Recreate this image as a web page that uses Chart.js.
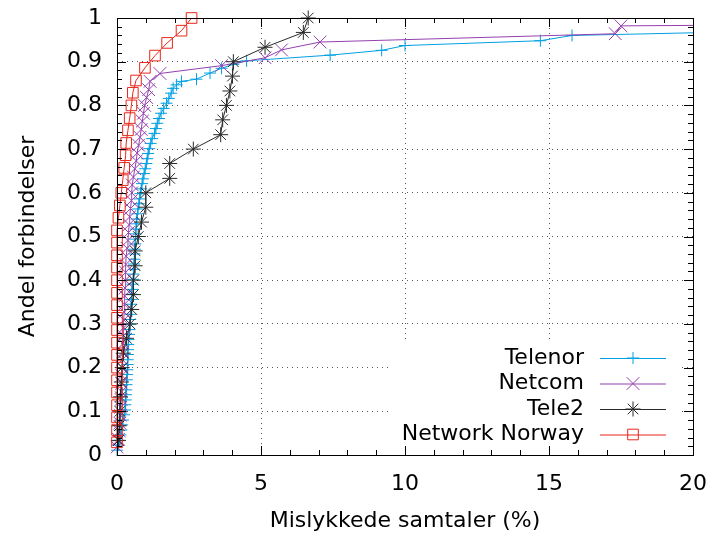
<!DOCTYPE html>
<html>
<head>
<meta charset="utf-8">
<script src="https://cdn.jsdelivr.net/npm/chart.js@4.4.1/dist/chart.umd.min.js"></script>
<style>
  html, body { margin: 0; padding: 0; background: #fff; }
</style>
</head>
<body>
<canvas id="cdfChart" width="712" height="536"></canvas>
<script>
const seriesNames = ["Telenor", "Netcom", "Tele2", "Network Norway"];

// Mislykkede samtaler (%) vs andel forbindelser, one list per operator
const telenorX = [0, 0.05, 0.08, 0.12, 0.15, 0.18, 0.21, 0.25, 0.28, 0.29, 0.3, 0.31, 0.32, 0.33, 0.34, 0.35, 0.36, 0.37, 0.37, 0.38, 0.38, 0.39, 0.4, 0.42, 0.43, 0.45, 0.46, 0.47, 0.48, 0.49, 0.5, 0.51, 0.52, 0.54, 0.56, 0.57, 0.58, 0.59, 0.6, 0.61, 0.62, 0.63, 0.64, 0.65, 0.66, 0.67, 0.69, 0.71, 0.73, 0.76, 0.78, 0.81, 0.84, 0.87, 0.9, 0.94, 0.98, 1.02, 1.05, 1.08, 1.12, 1.17, 1.22, 1.3, 1.35, 1.4, 1.46, 1.53, 1.62, 1.72, 1.8, 1.88, 1.95, 2.07, 2.24, 2.76, 3.23, 3.63, 4.04, 4.5, 7.4, 9.19, 10.0, 14.7, 15.8, 24, 32, 45];
const telenorY = [0.011, 0.023, 0.034, 0.046, 0.057, 0.069, 0.08, 0.092, 0.103, 0.115, 0.126, 0.138, 0.149, 0.161, 0.172, 0.184, 0.195, 0.207, 0.218, 0.23, 0.241, 0.253, 0.264, 0.276, 0.287, 0.299, 0.31, 0.322, 0.333, 0.345, 0.356, 0.368, 0.379, 0.391, 0.402, 0.414, 0.425, 0.437, 0.448, 0.46, 0.471, 0.483, 0.494, 0.506, 0.517, 0.529, 0.54, 0.552, 0.563, 0.575, 0.586, 0.598, 0.609, 0.621, 0.632, 0.644, 0.655, 0.667, 0.678, 0.69, 0.701, 0.713, 0.724, 0.736, 0.747, 0.759, 0.77, 0.782, 0.793, 0.805, 0.816, 0.828, 0.839, 0.847, 0.855, 0.86, 0.874, 0.885, 0.894, 0.902, 0.915, 0.926, 0.937, 0.948, 0.96, 0.972, 0.986, 1.0];

const netcomX = [0, 0.05, 0.08, 0.1, 0.12, 0.13, 0.14, 0.15, 0.16, 0.17, 0.18, 0.19, 0.2, 0.21, 0.22, 0.23, 0.24, 0.25, 0.26, 0.27, 0.28, 0.29, 0.3, 0.31, 0.32, 0.35, 0.38, 0.4, 0.42, 0.44, 0.47, 0.5, 0.51, 0.53, 0.57, 0.62, 0.67, 0.7, 0.75, 0.8, 0.84, 0.88, 0.92, 0.96, 1.03, 1.1, 1.15, 1.49, 3.63, 5.14, 5.71, 7.05, 17.3, 17.5, 60];
const netcomY = [0.018, 0.036, 0.055, 0.073, 0.091, 0.109, 0.127, 0.145, 0.164, 0.182, 0.2, 0.218, 0.236, 0.255, 0.273, 0.291, 0.309, 0.327, 0.345, 0.364, 0.382, 0.4, 0.418, 0.436, 0.455, 0.473, 0.491, 0.509, 0.527, 0.545, 0.564, 0.582, 0.6, 0.618, 0.636, 0.655, 0.673, 0.691, 0.709, 0.727, 0.745, 0.764, 0.782, 0.8, 0.818, 0.836, 0.855, 0.873, 0.891, 0.909, 0.927, 0.945, 0.964, 0.982, 1.0];

const tele2X = [0.05, 0.08, 0.1, 0.12, 0.15, 0.18, 0.22, 0.33, 0.45, 0.51, 0.57, 0.57, 0.63, 0.63, 0.74, 0.85, 1.0, 1.0, 1.83, 1.83, 2.65, 3.6, 3.67, 3.8, 3.92, 4.01, 4.04, 5.14, 6.47, 6.64];
const tele2Y = [0.033, 0.067, 0.1, 0.133, 0.167, 0.2, 0.233, 0.267, 0.3, 0.333, 0.367, 0.4, 0.433, 0.467, 0.5, 0.533, 0.567, 0.6, 0.633, 0.667, 0.7, 0.733, 0.767, 0.8, 0.833, 0.867, 0.9, 0.933, 0.967, 1.0];

const norwayX = [0, 0, 0, 0, 0, 0, 0, 0, 0, 0, 0, 0, 0, 0, 0, 0, 0, 0, 0.05, 0.1, 0.15, 0.2, 0.25, 0.3, 0.32, 0.38, 0.44, 0.5, 0.55, 0.66, 0.97, 1.32, 1.74, 2.24, 2.59];
const norwayY = [0.029, 0.057, 0.086, 0.114, 0.143, 0.171, 0.2, 0.229, 0.257, 0.286, 0.314, 0.343, 0.371, 0.4, 0.429, 0.457, 0.486, 0.514, 0.543, 0.571, 0.6, 0.629, 0.657, 0.686, 0.714, 0.743, 0.771, 0.8, 0.829, 0.857, 0.886, 0.914, 0.943, 0.971, 1.0];

const xTicks = [0, 5, 10, 15, 20];
const yTicks = [0, 0.1, 0.2, 0.3, 0.4, 0.5, 0.6, 0.7, 0.8, 0.9, 1];
const yTickLabels = ["0", "0.1", "0.2", "0.3", "0.4", "0.5", "0.6", "0.7", "0.8", "0.9", "1"];

const colors = ["#00a0e2", "#9440b0", "#2a2a2a", "#e8261a"];
const styles = ["cross", "crossRot", "star", "rect"];
const radii = [6, 9, 7.5, 7.5];

function toPoints(xs, ys) {
  return xs.map((x, i) => ({ x: x, y: ys[i] }));
}

const allX = [telenorX, netcomX, tele2X, norwayX];
const allY = [telenorY, netcomY, tele2Y, norwayY];

const datasets = seriesNames.map((name, i) => ({
  label: name,
  data: toPoints(allX[i], allY[i]),
  showLine: true,
  borderColor: colors[i],
  borderWidth: 1,
  pointStyle: styles[i],
  pointRadius: radii[i],
  pointBorderColor: colors[i],
  pointBackgroundColor: "rgba(0,0,0,0)",
  pointBorderWidth: 1,
  tension: 0,
  order: 4 - i,
  clip: { left: 12, top: 12, right: 0, bottom: 12 },
}));

const FONT = "'DejaVu Sans', sans-serif";
const FSIZE = 22;

// gnuplot-like frame: border, inward ticks, opaque key box
const framePlugin = {
  id: "frame",
  beforeDatasetsDraw(chart) {
    const ctx = chart.ctx;
    const ca = chart.chartArea;
    ctx.save();
    ctx.fillStyle = "#fff";
    ctx.fillRect(ca.right - 302, ca.bottom - 112, 290, 104);
    ctx.restore();
  },
  afterDatasetsDraw(chart) {
    const ctx = chart.ctx;
    const ca = chart.chartArea;
    const xs = chart.scales.x;
    const ys = chart.scales.y;
    ctx.save();
    ctx.strokeStyle = "#000";
    ctx.lineWidth = 1;
    ctx.beginPath();
    for (let i = 0; i <= 50; i++) {
      const len = i % 5 === 0 ? 9 : 5;
      const py = Math.round(ys.getPixelForValue(i / 50)) + 0.5;
      ctx.moveTo(ca.left, py);
      ctx.lineTo(ca.left + len, py);
      ctx.moveTo(ca.right, py);
      ctx.lineTo(ca.right - len, py);
    }
    for (let i = 0; i <= 20; i++) {
      const len = i % 5 === 0 ? 9 : 5;
      const px = Math.round(xs.getPixelForValue(i)) + 0.5;
      ctx.moveTo(px, ca.bottom);
      ctx.lineTo(px, ca.bottom - len);
      ctx.moveTo(px, ca.top);
      ctx.lineTo(px, ca.top + len);
    }
    ctx.stroke();
    ctx.strokeRect(Math.round(ca.left) + 0.5, Math.round(ca.top) + 0.5,
      Math.round(ca.right - ca.left), Math.round(ca.bottom - ca.top));

    // key
    ctx.font = FSIZE + "px " + FONT;
    ctx.textAlign = "right";
    ctx.textBaseline = "middle";
    seriesNames.forEach((name, i) => {
      const y = ca.bottom - 97 + i * 25.5;
      ctx.fillStyle = "#000";
      ctx.fillText(name, ca.right - 109, y);
      ctx.strokeStyle = colors[i];
      ctx.beginPath();
      ctx.moveTo(ca.right - 93, y + 0.5);
      ctx.lineTo(ca.right - 27, y + 0.5);
      ctx.stroke();
      ctx.fillStyle = "rgba(0,0,0,0)";
      ctx.lineWidth = 1;
      Chart.helpers.drawPoint(ctx, {
        pointStyle: styles[i], radius: radii[i], rotation: 0, borderWidth: 1,
      }, ca.right - 60, y);
    });
    ctx.restore();
  },
};

const ctx = document.getElementById("cdfChart").getContext("2d");
new Chart(ctx, {
  type: "scatter",
  data: { datasets: datasets },
  options: {
    responsive: false,
    animation: false,
    layout: { padding: { top: 18, right: 19, left: 0, bottom: 0 } },
    plugins: {
      legend: { display: false },
      tooltip: { enabled: false },
    },
    scales: {
      x: {
        type: "linear",
        min: 0,
        max: 20,
        afterBuildTicks(scale) {
          scale.ticks = xTicks.map((v) => ({ value: v }));
        },
        afterFit(scale) {
          scale.height = 81;
          scale.paddingLeft = 0;
          scale.paddingRight = 0;
        },
        grid: { color: "#555", lineWidth: 1, drawTicks: false },
        border: { display: false, dash: [1, 4] },
        ticks: { color: "#000", font: { family: FONT, size: FSIZE }, padding: 16, maxRotation: 0 },
        title: {
          display: true,
          text: "Mislykkede samtaler (%)",
          color: "#000",
          font: { family: FONT, size: FSIZE },
          padding: { top: 0, bottom: 2 },
        },
      },
      y: {
        type: "linear",
        min: 0,
        max: 1,
        afterBuildTicks(scale) {
          scale.ticks = yTicks.map((v) => ({ value: v }));
        },
        afterFit(scale) {
          scale.width = 117;
          scale.paddingTop = 0;
          scale.paddingBottom = 0;
        },
        grid: { color: "#555", lineWidth: 1, drawTicks: false },
        border: { display: false, dash: [1, 4] },
        ticks: {
          color: "#000",
          font: { family: FONT, size: FSIZE },
          padding: 15,
          callback: (v, i) => yTickLabels[i],
        },
        title: {
          display: true,
          text: "Andel forbindelser",
          color: "#000",
          font: { family: FONT, size: FSIZE },
          padding: { top: 15, bottom: 0 },
        },
      },
    },
  },
  plugins: [framePlugin],
});
</script>
</body>
</html>
